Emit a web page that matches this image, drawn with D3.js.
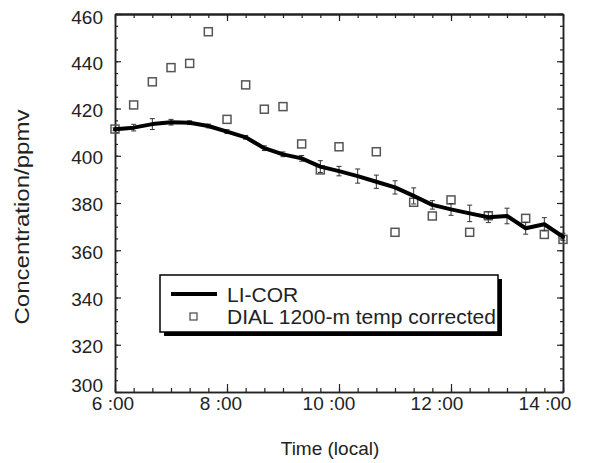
<!DOCTYPE html>
<html>
<head>
<meta charset="utf-8">
<script src="https://cdn.jsdelivr.net/npm/d3@7/dist/d3.min.js"></script>
<style>
    body { margin: 0; background: #fff; }
    text { font-family: "Liberation Sans", Arial, sans-serif; fill: #222; }
</style>
</head>
<body>
<div id="container"></div>
<script>
// LI-COR series (20 min steps), value and error bar half-width
const licorTimes = ["6:00", "6:20", "6:40", "7:00", "7:20", "7:40", "8:00", "8:20", "8:40",
    "9:00", "9:20", "9:40", "10:00", "10:20", "10:40", "11:00", "11:20", "11:40",
    "12:00", "12:20", "12:40", "13:00", "13:20", "13:40", "14:00"]
const licorValues = [411.2, 411.9, 413.4, 414.2, 414.0, 412.6, 410.2, 407.8, 403.2,
    400.6, 398.9, 395.4, 393.5, 391.4, 389.0, 386.6, 383.0, 379.2,
    377.3, 375.6, 374.0, 374.5, 369.3, 371.0, 365.7]
const licorErrors = [0.6, 1.4, 2.3, 1.2, 0.8, 0.8, 0.8, 0.8, 1.0,
    1.0, 1.2, 2.5, 2.0, 3.0, 2.8, 2.8, 3.4, 1.8,
    2.5, 3.5, 2.3, 3.3, 2.5, 2.8, 1.5]

// DIAL 1200-m temp corrected
const dialTimes = ["6:00", "6:20", "6:40", "7:00", "7:20", "7:40", "8:00", "8:20", "8:40",
    "9:00", "9:20", "9:40", "10:00", "10:40", "11:00", "11:20", "11:40",
    "12:00", "12:20", "12:40", "13:20", "13:40", "14:00"]
const dialValues = [411.3, 421.5, 431.3, 437.3, 439.1, 452.5, 415.4, 430.0, 419.7,
    420.8, 405.0, 394.0, 403.8, 401.7, 367.6, 380.3, 374.5,
    381.3, 367.6, 374.6, 373.5, 366.7, 364.6]

const xTicks = [6, 8, 10, 12, 14]
const yTicks = [300, 320, 340, 360, 380, 400, 420, 440, 460]

const legendLabels = ["LI-COR", "DIAL 1200-m temp corrected"]

const toHours = s => { const p = s.split(":"); return +p[0] + (+p[1]) / 60 }

const licor = licorTimes.map((t, i) => ({ t: toHours(t), v: licorValues[i], e: licorErrors[i] }))
const dial = dialTimes.map((t, i) => ({ t: toHours(t), v: dialValues[i] }))

const W = 610, H = 463
const plotLeft = 115, plotRight = 563, plotTop = 14, plotBottom = 392

const svg = d3.select("#container").append("svg")
    .attr("width", W)
    .attr("height", H)

const xScale = d3.scaleLinear().domain([6, 14]).range([plotLeft, plotRight])
const yScale = d3.scaleLinear().domain([300, 460]).range([plotBottom, plotTop])
// tick labels in the source sit a bit left of their ticks
const xLabelScale = d3.scaleLinear().domain([6, 14]).range([113, 545])

const minorX = d3.range(6, 14.001, 1 / 3)
const minorY = d3.range(300, 460.001, 5)

function styleAxis(g, w) {
    g.selectAll("path.domain").attr("stroke", "#222").attr("stroke-width", w)
    g.selectAll(".tick line").attr("stroke", "#222").attr("stroke-width", 1.2)
}

// left axis
svg.append("g").attr("transform", `translate(${plotLeft},0)`)
    .call(d3.axisLeft(yScale).tickValues(minorY).tickSize(-3).tickSizeOuter(0).tickFormat(""))
    .call(g => styleAxis(g, 1.5))
svg.append("g").attr("transform", `translate(${plotLeft},0)`)
    .call(d3.axisLeft(yScale).tickValues(yTicks).tickSize(-6).tickSizeOuter(0).tickPadding(12))
    .call(g => styleAxis(g, 1.5))
    .call(g => g.selectAll(".tick text")
        .attr("font-size", 19)
        .attr("font-family", "Liberation Sans, Arial, sans-serif")
        .attr("fill", "#222")
        .attr("dy", d => d === 300 ? "-0.05em" : d === 460 ? "0.5em" : "0.42em"))

// right axis
svg.append("g").attr("transform", `translate(${plotRight},0)`)
    .call(d3.axisRight(yScale).tickValues(minorY).tickSize(-3).tickSizeOuter(0).tickFormat(""))
    .call(g => styleAxis(g, 1.5))
svg.append("g").attr("transform", `translate(${plotRight},0)`)
    .call(d3.axisRight(yScale).tickValues(yTicks).tickSize(-6).tickSizeOuter(0).tickFormat(""))
    .call(g => styleAxis(g, 1.5))

// bottom axis
svg.append("g").attr("transform", `translate(0,${plotBottom})`)
    .call(d3.axisBottom(xScale).tickValues(minorX).tickSize(-4).tickSizeOuter(0).tickFormat(""))
    .call(g => styleAxis(g, 1.5))
svg.append("g").attr("transform", `translate(0,${plotBottom})`)
    .call(d3.axisBottom(xScale).tickValues(xTicks).tickSize(-8).tickSizeOuter(0).tickFormat(""))
    .call(g => styleAxis(g, 1.5))

// top axis
svg.append("g").attr("transform", `translate(0,${plotTop})`)
    .call(d3.axisTop(xScale).tickValues(minorX).tickSize(-4).tickSizeOuter(0).tickFormat(""))
    .call(g => styleAxis(g, 1.8))
svg.append("g").attr("transform", `translate(0,${plotTop})`)
    .call(d3.axisTop(xScale).tickValues(xTicks).tickSize(-7).tickSizeOuter(0).tickFormat(""))
    .call(g => styleAxis(g, 1.8))

// x tick labels
svg.append("g").selectAll("text")
    .data(xTicks)
    .enter()
    .append("text")
    .attr("x", d => xLabelScale(d))
    .attr("y", 410)
    .attr("text-anchor", "middle")
    .attr("font-size", 19)
    .text(d => d + " :00")

// axis titles
svg.append("text")
    .attr("x", 330)
    .attr("y", 455)
    .attr("text-anchor", "middle")
    .attr("font-size", 19)
    .text("Time (local)")

svg.append("text")
    .attr("transform", "translate(29,217) rotate(-90)")
    .attr("text-anchor", "middle")
    .attr("font-size", 20)
    .attr("textLength", 215)
    .attr("lengthAdjust", "spacingAndGlyphs")
    .text("Concentration/ppmv")

// DIAL squares
const sq = 8
svg.append("g").selectAll("rect")
    .data(dial)
    .enter()
    .append("rect")
    .attr("x", d => xScale(d.t) - sq / 2)
    .attr("y", d => yScale(d.v) - sq / 2)
    .attr("width", sq)
    .attr("height", sq)
    .attr("fill", "none")
    .attr("stroke", "#555")
    .attr("stroke-width", 1.5)

// error bars
const eb = svg.append("g").attr("stroke", "#333").attr("stroke-width", 1)
eb.selectAll("path")
    .data(licor)
    .enter()
    .append("path")
    .attr("fill", "none")
    .attr("d", d => {
        const x = xScale(d.t), y0 = yScale(d.v - d.e), y1 = yScale(d.v + d.e)
        return `M${x - 2.5},${y0}H${x + 2.5}M${x},${y0}V${y1}M${x - 2.5},${y1}H${x + 2.5}`
    })

// LI-COR line
const line = d3.line()
    .x(d => xScale(d.t))
    .y(d => yScale(d.v))

svg.append("path")
    .datum(licor)
    .attr("fill", "none")
    .attr("stroke", "#000")
    .attr("stroke-width", 4)
    .attr("stroke-linejoin", "round")
    .attr("stroke-linecap", "round")
    .attr("d", line)

// legend
const lg = svg.append("g")
lg.append("rect")
    .attr("x", 164).attr("y", 279)
    .attr("width", 338).attr("height", 57)
    .attr("fill", "#000")
lg.append("rect")
    .attr("x", 160).attr("y", 275)
    .attr("width", 338).attr("height", 57)
    .attr("fill", "#fff")
    .attr("stroke", "#000")
    .attr("stroke-width", 1.5)
lg.append("line")
    .attr("x1", 171).attr("x2", 217)
    .attr("y1", 294).attr("y2", 294)
    .attr("stroke", "#000")
    .attr("stroke-width", 4)
lg.append("rect")
    .attr("x", 190).attr("y", 313)
    .attr("width", 7).attr("height", 7)
    .attr("fill", "none")
    .attr("stroke", "#555")
    .attr("stroke-width", 1.3)
lg.selectAll("text.lab")
    .data(legendLabels)
    .enter()
    .append("text")
    .attr("class", "lab")
    .attr("x", 227)
    .attr("y", (d, i) => 294 + i * 22)
    .attr("dy", "0.36em")
    .attr("font-size", 21)
    .text(d => d)
</script>
</body>
</html>
